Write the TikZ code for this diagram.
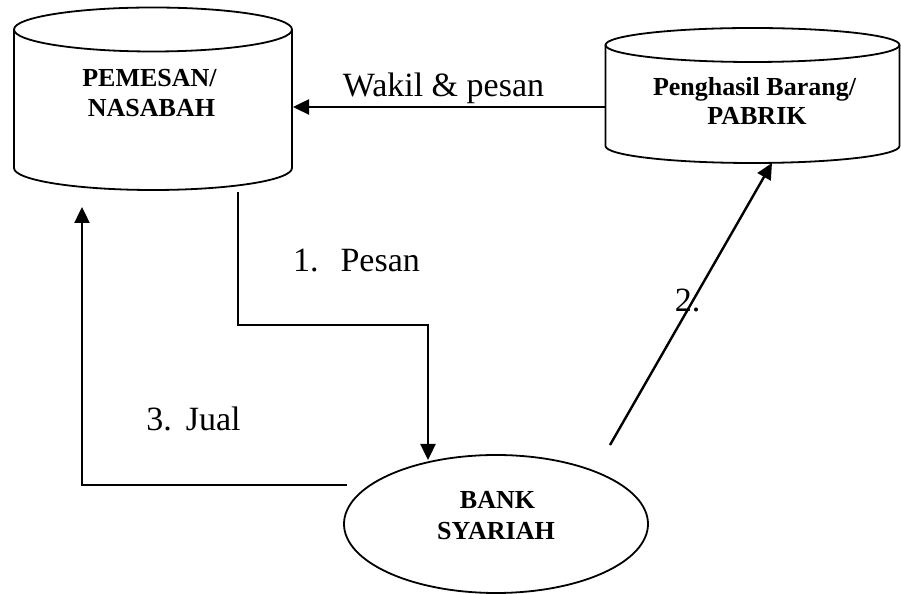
\documentclass[tikz,border=0pt]{standalone}
\usepackage{fontspec}
\setmainfont{Liberation Serif}
\usetikzlibrary{arrows.meta,shapes.geometric}
\begin{document}
\begin{tikzpicture}[x=0.5pt,y=0.5pt,
  shapeline/.style={draw=black,line width=0.9pt},
  conn/.style={draw=black,line width=1.2pt,-{Triangle[length=8pt,width=7.5pt]}},
  boldtxt/.style={inner sep=0pt,anchor=base,font=\bfseries\fontsize{13}{15}\selectfont},
  lbl/.style={inner sep=0pt,anchor=base,font=\fontsize{17}{20}\selectfont}]
\useasboundingbox (0,0) rectangle (901,594);
% left cylinder PEMESAN
\path[shapeline] (153,564.5) ellipse[x radius=139,y radius=22];
\path[shapeline] (14,564.5) -- (14,426) arc[start angle=180,end angle=360,x radius=139,y radius=22] -- (292,564.5);
% right cylinder PABRIK
\path[shapeline] (752.5,549) ellipse[x radius=147,y radius=17];
\path[shapeline] (605.5,549) -- (605.5,448) arc[start angle=180,end angle=360,x radius=147,y radius=17] -- (899.5,549);
% ellipse BANK
\node[shapeline,ellipse,minimum width=152pt,minimum height=69pt,inner sep=0pt] (bank) at (496,70) {};
% texts
\node[boldtxt] (pem1) at (149.5,507) {PEMESAN/};
\node[boldtxt] (pem2) at (151.5,477) {NASABAH};
\node[boldtxt] (pab1) at (754.5,498) {Penghasil Barang/};
\node[boldtxt] (pab2) at (757,469) {PABRIK};
\node[boldtxt] (bank1) at (497.5,85) {BANK};
\node[boldtxt] (bank2) at (496,54) {SYARIAH};
\node[lbl] (wakil) at (443.5,497) {Wakil \& pesan};
\node[lbl] (pesan) at (356.5,322) {1.\hspace{11pt}Pesan};
\node[lbl] (jual) at (193.5,163) {3.\hspace{7pt}Jual};
\node[lbl] (dua) at (687.5,282) {2.};
% connector coordinates
\coordinate (wS) at (605.5,487);
\coordinate (wE) at (293,487);
\coordinate (pS) at (238,402);
\coordinate (pA) at (238,269);
\coordinate (pB) at (428,269);
\coordinate (pE) at (428,134);
\coordinate (jS) at (347,109);
\coordinate (jA) at (82,109);
\coordinate (jE) at (82,387);
\coordinate (dS) at (610,149);
\coordinate (dE) at (772,431);
% connectors
\draw[conn] (wS) -- (wE);
\draw[conn] (pS) -- (pA) -- (pB) -- (pE);
\draw[conn] (jS) -- (jA) -- (jE);
\draw[conn] (dS) -- (dE);
\end{tikzpicture}
\end{document}
